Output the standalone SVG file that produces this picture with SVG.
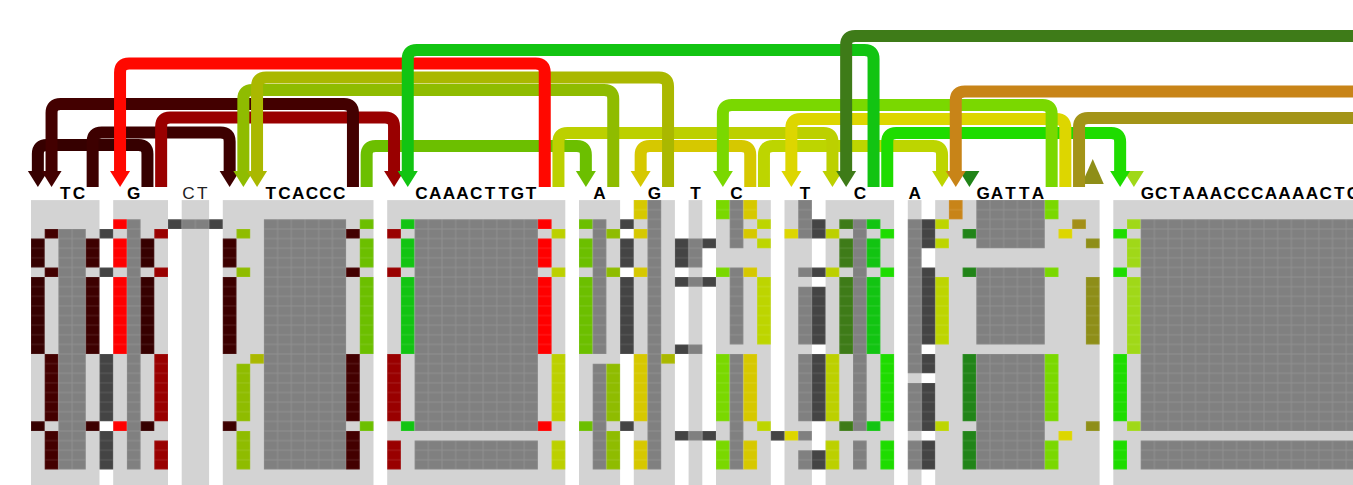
<svg xmlns="http://www.w3.org/2000/svg" width="1353" height="485" viewBox="0 0 1353 485">
<style>
.blk{fill:#d3d3d3}
.lbl{font-family:"Liberation Sans",Arial,sans-serif;font-size:17.2px;font-weight:bold;fill:#000;text-anchor:middle}
.thin{font-weight:normal;fill:#222}
.arc{fill:none;stroke-width:12}
.p0{fill:url(#p0)}.p1{fill:url(#p1)}.p2{fill:url(#p2)}.p3{fill:url(#p3)}.p4{fill:url(#p4)}
.p5{fill:url(#p5)}.p6{fill:url(#p6)}.p7{fill:url(#p7)}.p8{fill:url(#p8)}.p9{fill:url(#p9)}
.p10{fill:url(#p10)}.p11{fill:url(#p11)}.p12{fill:url(#p12)}.p13{fill:url(#p13)}.p14{fill:url(#p14)}
.p15{fill:url(#p15)}.p16{fill:url(#p16)}.p17{fill:url(#p17)}.p18{fill:url(#p18)}.p19{fill:url(#p19)}
.p20{fill:url(#p20)}.pg{fill:url(#pg)}.pd{fill:url(#pd)}
</style>
<defs>
<!-- thin light seams around one cell (cell grid is 1x1 in the scaled matrix space) -->
<path id="ln" fill="#fff" fill-opacity=".13" d="M0 0H1V.052H0ZM0 .948H1V1H0ZM0 .052H.0365V.948H0ZM.9635 .052H1V.948H.9635Z"/>
<pattern id="p0" width="1" height="1" patternUnits="userSpaceOnUse"><rect width="1" height="1" fill="#360000"/><use href="#ln"/></pattern>
<pattern id="p1" width="1" height="1" patternUnits="userSpaceOnUse"><rect width="1" height="1" fill="#430000"/><use href="#ln"/></pattern>
<pattern id="p2" width="1" height="1" patternUnits="userSpaceOnUse"><rect width="1" height="1" fill="#3d0000"/><use href="#ln"/></pattern>
<pattern id="p3" width="1" height="1" patternUnits="userSpaceOnUse"><rect width="1" height="1" fill="#ff0000"/><use href="#ln"/></pattern>
<pattern id="p4" width="1" height="1" patternUnits="userSpaceOnUse"><rect width="1" height="1" fill="#990000"/><use href="#ln"/></pattern>
<pattern id="p5" width="1" height="1" patternUnits="userSpaceOnUse"><rect width="1" height="1" fill="#6cbf00"/><use href="#ln"/></pattern>
<pattern id="p6" width="1" height="1" patternUnits="userSpaceOnUse"><rect width="1" height="1" fill="#12c412"/><use href="#ln"/></pattern>
<pattern id="p7" width="1" height="1" patternUnits="userSpaceOnUse"><rect width="1" height="1" fill="#8fbc00"/><use href="#ln"/></pattern>
<pattern id="p8" width="1" height="1" patternUnits="userSpaceOnUse"><rect width="1" height="1" fill="#aab800"/><use href="#ln"/></pattern>
<pattern id="p9" width="1" height="1" patternUnits="userSpaceOnUse"><rect width="1" height="1" fill="#bcd000"/><use href="#ln"/></pattern>
<pattern id="p10" width="1" height="1" patternUnits="userSpaceOnUse"><rect width="1" height="1" fill="#d6c800"/><use href="#ln"/></pattern>
<pattern id="p11" width="1" height="1" patternUnits="userSpaceOnUse"><rect width="1" height="1" fill="#bdd500"/><use href="#ln"/></pattern>
<pattern id="p12" width="1" height="1" patternUnits="userSpaceOnUse"><rect width="1" height="1" fill="#7ad800"/><use href="#ln"/></pattern>
<pattern id="p13" width="1" height="1" patternUnits="userSpaceOnUse"><rect width="1" height="1" fill="#ddd600"/><use href="#ln"/></pattern>
<pattern id="p14" width="1" height="1" patternUnits="userSpaceOnUse"><rect width="1" height="1" fill="#3e7b18"/><use href="#ln"/></pattern>
<pattern id="p15" width="1" height="1" patternUnits="userSpaceOnUse"><rect width="1" height="1" fill="#1edc00"/><use href="#ln"/></pattern>
<pattern id="p16" width="1" height="1" patternUnits="userSpaceOnUse"><rect width="1" height="1" fill="#c88418"/><use href="#ln"/></pattern>
<pattern id="p17" width="1" height="1" patternUnits="userSpaceOnUse"><rect width="1" height="1" fill="#218418"/><use href="#ln"/></pattern>
<pattern id="p18" width="1" height="1" patternUnits="userSpaceOnUse"><rect width="1" height="1" fill="#a38f18"/><use href="#ln"/></pattern>
<pattern id="p19" width="1" height="1" patternUnits="userSpaceOnUse"><rect width="1" height="1" fill="#8e8e18"/><use href="#ln"/></pattern>
<pattern id="p20" width="1" height="1" patternUnits="userSpaceOnUse"><rect width="1" height="1" fill="#a0d818"/><use href="#ln"/></pattern>
<pattern id="pg" width="1" height="1" patternUnits="userSpaceOnUse"><rect width="1" height="1" fill="#808080"/><use href="#ln"/></pattern>
<pattern id="pd" width="1" height="1" patternUnits="userSpaceOnUse"><rect width="1" height="1" fill="#444444"/><use href="#ln"/></pattern>
<!-- arrowhead, tip at origin pointing down -->
<path id="ah" d="M-10 -16H10L0 0Z"/>
</defs>

<!-- node TC -->
<g id="node-TC">
<g transform="translate(31 200.1) scale(13.7 9.62)">
<rect class="blk" x="0" width="5" height="30"/>
<path class="p0" d="M0 4h1v3h-1zM0 8h1v8h-1zM0 23h1v1h-1z"/>
<path class="p1" d="M1 3h1v1h-1zM1 7h1v1h-1zM1 16h1v7h-1zM1 24h1v4h-1z"/>
<path class="pg" d="M2 3h2v25h-2z"/>
<path class="p2" d="M4 4h1v3h-1zM4 8h1v8h-1zM4 23h1v1h-1z"/>
</g>
<text class="lbl" x="65.25 78.95" y="199.3">TC</text>
</g>

<!-- node G -->
<g id="node-G1">
<g transform="translate(31 200.1) scale(13.7 9.62)">
<rect class="blk" x="6" width="4" height="30"/>
<path class="p3" d="M6 2h1v1h-1zM6 4h1v3h-1zM6 8h1v8h-1zM6 23h1v1h-1z"/>
<path class="pg" d="M7 2h1v26h-1z"/>
<path class="p0" d="M8 4h1v3h-1zM8 8h1v8h-1zM8 23h1v1h-1z"/>
<path class="p4" d="M9 3h1v1h-1zM9 7h1v1h-1zM9 16h1v7h-1zM9 25h1v3h-1z"/>
</g>
<text class="lbl" x="133.75" y="199.3">G</text>
</g>

<!-- node CT -->
<g id="node-CT">
<g transform="translate(31 200.1) scale(13.7 9.62)">
<rect class="blk" x="11" width="2" height="30"/>
<path class="pg" d="M11 2h2v1h-2z"/>
</g>
<text class="lbl thin" x="188.55 202.25" y="199.3">CT</text>
</g>

<!-- node TCACCC -->
<g id="node-TCACCC">
<g transform="translate(31 200.1) scale(13.7 9.62)">
<rect class="blk" x="14" width="11" height="30"/>
<path class="p2" d="M14 4h1v3h-1zM14 8h1v8h-1zM14 23h1v1h-1z"/>
<path class="p7" d="M15 3h1v1h-1zM15 7h1v1h-1zM15 17h1v6h-1zM15 24h1v4h-1z"/>
<path class="p8" d="M16 16h1v1h-1z"/>
<path class="pg" d="M17 2h6v26h-6z"/>
<path class="p1" d="M23 3h1v1h-1zM23 7h1v1h-1zM23 16h1v7h-1zM23 24h1v4h-1z"/>
<path class="p5" d="M24 2h1v1h-1zM24 4h1v3h-1zM24 8h1v8h-1zM24 23h1v1h-1z"/>
</g>
<text class="lbl" x="270.75 284.45 298.15 311.85 325.55 339.25" y="199.3">TCACCC</text>
</g>

<!-- node CAAACTTGT -->
<g id="node-CAAACTTGT">
<g transform="translate(31 200.1) scale(13.7 9.62)">
<rect class="blk" x="26" width="13" height="30"/>
<path class="p4" d="M26 3h1v1h-1zM26 7h1v1h-1zM26 16h1v7h-1zM26 25h1v3h-1z"/>
<path class="p6" d="M27 2h1v1h-1zM27 4h1v3h-1zM27 8h1v8h-1zM27 23h1v1h-1z"/>
<path class="pg" d="M28 2h9v22h-9zM28 25h9v3h-9z"/>
<path class="p3" d="M37 2h1v1h-1zM37 4h1v3h-1zM37 8h1v8h-1zM37 23h1v1h-1z"/>
<path class="p9" d="M38 3h1v1h-1zM38 7h1v1h-1zM38 16h1v7h-1zM38 25h1v3h-1z"/>
</g>
<text class="lbl" x="421.45 435.15 448.85 462.55 476.25 489.95 503.65 517.35 531.05" y="199.3">CAAACTTGT</text>
</g>

<!-- node A -->
<g id="node-A1">
<g transform="translate(31 200.1) scale(13.7 9.62)">
<rect class="blk" x="40" width="3" height="30"/>
<path class="p5" d="M40 2h1v1h-1zM40 4h1v3h-1zM40 8h1v8h-1zM40 23h1v1h-1z"/>
<path class="pg" d="M41 2h1v14h-1zM41 17h1v11h-1z"/>
<path class="p7" d="M42 3h1v1h-1zM42 7h1v1h-1zM42 17h1v6h-1zM42 24h1v4h-1z"/>
</g>
<text class="lbl" x="599.55" y="199.3">A</text>
</g>

<!-- node G -->
<g id="node-G2">
<g transform="translate(31 200.1) scale(13.7 9.62)">
<rect class="blk" x="44" width="3" height="30"/>
<path class="p10" d="M44 0h1v2h-1zM44 3h1v1h-1zM44 7h1v1h-1zM44 16h1v7h-1zM44 25h1v3h-1z"/>
<path class="pg" d="M45 0h1v28h-1z"/>
<path class="p8" d="M46 16h1v1h-1z"/>
</g>
<text class="lbl" x="654.35" y="199.3">G</text>
</g>

<!-- node T -->
<g id="node-T1">
<g transform="translate(31 200.1) scale(13.7 9.62)">
<rect class="blk" x="48" width="1" height="30"/>
<path class="pg" d="M48 4h1v3h-1zM48 8h1v1h-1zM48 15h1v1h-1zM48 24h1v1h-1z"/>
</g>
<text class="lbl" x="695.45" y="199.3">T</text>
</g>

<!-- node C -->
<g id="node-C1">
<g transform="translate(31 200.1) scale(13.7 9.62)">
<rect class="blk" x="50" width="4" height="30"/>
<path class="p12" d="M50 0h1v2h-1zM50 7h1v1h-1zM50 16h1v7h-1zM50 25h1v3h-1z"/>
<path class="pg" d="M51 0h1v5h-1zM51 7h1v8h-1zM51 16h1v12h-1z"/>
<path class="p10" d="M52 0h1v2h-1zM52 3h1v1h-1zM52 7h1v1h-1zM52 16h1v7h-1zM52 25h1v3h-1z"/>
<path class="p11" d="M53 2h1v1h-1zM53 4h1v1h-1zM53 8h1v7h-1zM53 23h1v1h-1z"/>
</g>
<text class="lbl" x="736.55" y="199.3">C</text>
</g>

<!-- node T -->
<g id="node-T2">
<g transform="translate(31 200.1) scale(13.7 9.62)">
<rect class="blk" x="55" width="2" height="30"/>
<path class="p13" d="M55 3h1v1h-1zM55 24h1v1h-1z"/>
<path class="pg" d="M56 0h1v4h-1zM56 7h1v1h-1zM56 9h1v6h-1zM56 16h1v7h-1zM56 24h1v1h-1zM56 26h1v2h-1z"/>
</g>
<text class="lbl" x="805.05" y="199.3">T</text>
</g>

<!-- node C -->
<g id="node-C2">
<g transform="translate(31 200.1) scale(13.7 9.62)">
<rect class="blk" x="58" width="5" height="30"/>
<path class="p9" d="M58 3h1v1h-1zM58 7h1v1h-1zM58 16h1v7h-1zM58 25h1v3h-1z"/>
<path class="p14" d="M59 2h1v1h-1zM59 4h1v3h-1zM59 8h1v8h-1zM59 23h1v1h-1z"/>
<path class="pg" d="M60 2h1v22h-1zM60 25h1v3h-1z"/>
<path class="p6" d="M61 2h1v1h-1zM61 4h1v3h-1zM61 8h1v8h-1zM61 23h1v1h-1z"/>
<path class="p15" d="M62 3h1v1h-1zM62 7h1v1h-1zM62 16h1v7h-1zM62 25h1v3h-1z"/>
</g>
<text class="lbl" x="859.85" y="199.3">C</text>
</g>

<!-- node A -->
<g id="node-A2">
<g transform="translate(31 200.1) scale(13.7 9.62)">
<rect class="blk" x="64" width="1" height="30"/>
<path class="pg" d="M64 2h1v16h-1zM64 19h1v5h-1zM64 25h1v3h-1z"/>
</g>
<text class="lbl" x="914.65" y="199.3">A</text>
</g>

<!-- node GATTA -->
<g id="node-GATTA">
<g transform="translate(31 200.1) scale(13.7 9.62)">
<rect class="blk" x="66" width="12" height="30"/>
<path class="p11" d="M66 2h1v1h-1zM66 4h1v1h-1zM66 8h1v7h-1zM66 23h1v1h-1z"/>
<path class="p16" d="M67 0h1v2h-1z"/>
<path class="p17" d="M68 3h1v1h-1zM68 7h1v1h-1zM68 16h1v7h-1zM68 24h1v4h-1z"/>
<path class="pg" d="M69 0h5v5h-5zM69 7h5v8h-5zM69 16h5v12h-5z"/>
<path class="p12" d="M74 0h1v2h-1zM74 7h1v1h-1zM74 16h1v7h-1zM74 25h1v3h-1z"/>
<path class="p13" d="M75 3h1v1h-1zM75 24h1v1h-1z"/>
<path class="p18" d="M76 2h1v1h-1z"/>
<path class="p19" d="M77 4h1v1h-1zM77 8h1v7h-1zM77 23h1v1h-1z"/>
</g>
<text class="lbl" x="983.15 996.85 1010.55 1024.25 1037.95" y="199.3">GATTA</text>
</g>

<!-- node GCTAAACCCAAAACTC... (runs past the right edge) -->
<g id="node-GCTAAACCCAAAACTC">
<g transform="translate(31 200.1) scale(13.7 9.62)">
<rect class="blk" x="79" width="20" height="30"/>
<path class="p15" d="M79 3h1v1h-1zM79 7h1v1h-1zM79 16h1v7h-1zM79 25h1v3h-1z"/>
<path class="p20" d="M80 2h1v1h-1zM80 4h1v3h-1zM80 8h1v8h-1zM80 23h1v1h-1z"/>
<path class="pg" d="M81 2h18v22h-18zM81 25h18v3h-18z"/>
</g>
<text class="lbl" x="1147.55 1161.25 1174.95 1188.65 1202.35 1216.05 1229.75 1243.45 1257.15 1270.85 1284.55 1298.25 1311.95 1325.65 1339.35 1353.05" y="199.3">GCTAAACCCAAAACTC</text>
</g>

<!-- connectors -->
<g id="connectors">
<!-- direct links between neighbouring nodes -->
<g transform="translate(31 200.1) scale(13.7 9.62)">
<path class="pd" d="M5 3h1v1h-1zM5 7h1v1h-1zM5 16h1v7h-1zM5 24h1v4h-1z"/>
<path class="pd" d="M10 2h1v1h-1zM13 2h1v1h-1z"/>
<path class="pd" d="M43 2h1v1h-1zM43 4h1v3h-1zM43 8h1v8h-1zM43 23h1v1h-1z"/>
<path class="pd" d="M47 4h1v3h-1zM47 8h1v1h-1zM47 15h1v1h-1zM47 24h1v1h-1z"/>
<path class="pd" d="M49 4h1v1h-1zM49 8h1v1h-1zM49 24h1v1h-1z"/>
<path class="pd" d="M54 24h1v1h-1z"/>
<path class="pd" d="M57 2h1v2h-1zM57 7h1v1h-1zM57 9h1v6h-1zM57 16h1v7h-1zM57 26h1v2h-1z"/>
<path class="pd" d="M65 2h1v3h-1zM65 7h1v8h-1zM65 16h1v2h-1zM65 19h1v5h-1zM65 25h1v3h-1z"/>
</g>
<!-- lone arrowheads -->
<use href="#ah" x="969.45" y="187" fill="#218418"/>
<use href="#ah" x="1133.85" y="187" fill="#a0d818"/>
<path d="M1081.75 184H1103.75L1092.75 159Z" fill="#8e8e18"/>
<!-- arcs, lowest first -->
<path class="arc" stroke="#6cbf00" d="M366.65 187V155Q366.65 146 375.65 146H576.85Q585.85 146 585.85 155V172"/>
<use href="#ah" x="585.85" y="187" fill="#6cbf00"/>
<path class="arc" stroke="#d6c800" d="M750.25 187V155Q750.25 146 741.25 146H649.65Q640.65 146 640.65 155V172"/>
<use href="#ah" x="640.65" y="187" fill="#d6c800"/>
<path class="arc" stroke="#bdd500" d="M763.95 187V155Q763.95 146 772.95 146H933.05Q942.05 146 942.05 155V172"/>
<use href="#ah" x="942.05" y="187" fill="#bdd500"/>
<path class="arc" stroke="#360000" d="M147.45 187V154Q147.45 145 138.45 145H46.85Q37.85 145 37.85 154V172"/>
<use href="#ah" x="37.85" y="187" fill="#360000"/>
<path class="arc" stroke="#bcd000" d="M558.45 187V142Q558.45 133 567.45 133H823.45Q832.45 133 832.45 142V172"/>
<use href="#ah" x="832.45" y="187" fill="#bcd000"/>
<path class="arc" stroke="#1edc00" d="M887.25 187V142Q887.25 133 896.25 133H1111.15Q1120.15 133 1120.15 142V172"/>
<use href="#ah" x="1120.15" y="187" fill="#1edc00"/>
<path class="arc" stroke="#3d0000" d="M92.65 187V141.5Q92.65 132.5 101.65 132.5H220.65Q229.65 132.5 229.65 141.5V172"/>
<use href="#ah" x="229.65" y="187" fill="#3d0000"/>
<path class="arc" stroke="#ddd600" d="M1065.35 187V128Q1065.35 119 1056.35 119H800.35Q791.35 119 791.35 128V172"/>
<use href="#ah" x="791.35" y="187" fill="#ddd600"/>
<path class="arc" stroke="#a39418" d="M1079.05 187V127Q1079.05 118 1088.05 118H1360"/>
<path class="arc" stroke="#990000" d="M161.15 187V126.5Q161.15 117.5 170.15 117.5H385.05Q394.05 117.5 394.05 126.5V172"/>
<use href="#ah" x="394.05" y="187" fill="#990000"/>
<path class="arc" stroke="#7ad800" d="M1051.65 187V114Q1051.65 105 1042.65 105H731.85Q722.85 105 722.85 114V172"/>
<use href="#ah" x="722.85" y="187" fill="#7ad800"/>
<path class="arc" stroke="#430000" d="M352.95 187V113Q352.95 104 343.95 104H60.55Q51.55 104 51.55 113V172"/>
<use href="#ah" x="51.55" y="187" fill="#430000"/>
<path class="arc" stroke="#c88418" d="M1360 91.5H964.75Q955.75 91.5 955.75 100.5V172"/>
<use href="#ah" x="955.75" y="187" fill="#c88418"/>
<path class="arc" stroke="#8fbc00" d="M613.25 187V99Q613.25 90 604.25 90H252.35Q243.35 90 243.35 99V172"/>
<use href="#ah" x="243.35" y="187" fill="#8fbc00"/>
<path class="arc" stroke="#aab800" d="M668.05 187V86.5Q668.05 77.5 659.05 77.5H266.05Q257.05 77.5 257.05 86.5V172"/>
<use href="#ah" x="257.05" y="187" fill="#aab800"/>
<path class="arc" stroke="#ff0800" d="M544.75 187V72.5Q544.75 63.5 535.75 63.5H129.05Q120.05 63.5 120.05 72.5V172"/>
<use href="#ah" x="120.05" y="187" fill="#ff0800"/>
<path class="arc" stroke="#12c412" d="M873.55 187V59Q873.55 50 864.55 50H416.75Q407.75 50 407.75 59V172"/>
<use href="#ah" x="407.75" y="187" fill="#12c412"/>
<path class="arc" stroke="#3e7b18" d="M1360 36H855.15Q846.15 36 846.15 45V172"/>
<use href="#ah" x="846.15" y="187" fill="#3e7b18"/>
</g>
</svg>
